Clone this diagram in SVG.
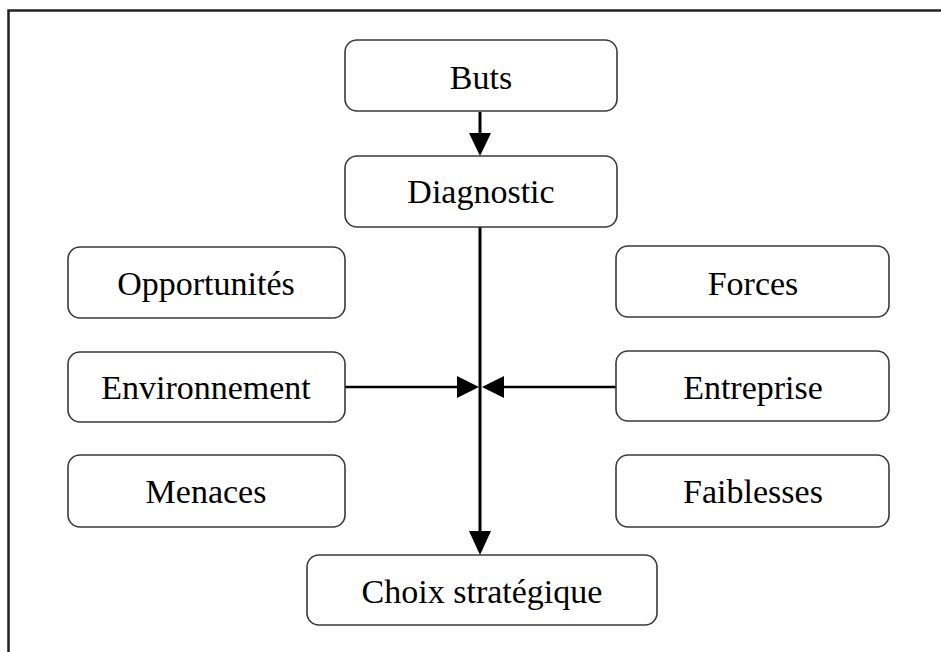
<svg xmlns="http://www.w3.org/2000/svg" width="941" height="652" viewBox="0 0 941 652">
<defs>
<style>
.box{fill:#fff;stroke:#3a3a3a;stroke-width:1.6}
.lbl{font-family:"Liberation Serif","Times New Roman",serif;font-size:34px;fill:#000;text-anchor:middle}
.ln{stroke:#000;stroke-width:3;fill:none}
</style>
</defs>
<rect x="0" y="0" width="941" height="652" fill="#fff"/>
<rect x="8.5" y="10.5" width="960" height="680" fill="none" stroke="#222" stroke-width="2.5"/>
<g id="connectors">
<line class="ln" x1="480" y1="112" x2="480" y2="133"/>
<path d="M469,133 L491,133 L480,156 Z" fill="#000"/>
<line class="ln" x1="480" y1="227" x2="480" y2="532"/>
<path d="M469,531 L491,531 L480,555 Z" fill="#000"/>
<line class="ln" x1="345" y1="387" x2="458" y2="387" style="stroke-width:2.5"/>
<path d="M457,376 L479,387 L457,398 Z" fill="#000"/>
<line class="ln" x1="616" y1="387" x2="503" y2="387" style="stroke-width:2.5"/>
<path d="M504,376 L482,387 L504,398 Z" fill="#000"/>
</g>
<g id="buts"><rect class="box" x="345" y="40" width="272" height="71" rx="12"/><text class="lbl" x="481" y="89">Buts</text></g>
<g id="diagnostic"><rect class="box" x="345" y="156" width="272" height="71" rx="12"/><text class="lbl" x="481" y="203">Diagnostic</text></g>
<g id="opportunites"><rect class="box" x="68" y="247" width="277" height="71" rx="12"/><text class="lbl" x="206" y="295">Opportunités</text></g>
<g id="forces"><rect class="box" x="616" y="246" width="273" height="71" rx="12"/><text class="lbl" x="753" y="295">Forces</text></g>
<g id="environnement"><rect class="box" x="68" y="352" width="277" height="70" rx="12"/><text class="lbl" x="206" y="399">Environnement</text></g>
<g id="entreprise"><rect class="box" x="616" y="351" width="273" height="70" rx="12"/><text class="lbl" x="753" y="399">Entreprise</text></g>
<g id="menaces"><rect class="box" x="68" y="455" width="277" height="72" rx="12"/><text class="lbl" x="206" y="503">Menaces</text></g>
<g id="faiblesses"><rect class="box" x="616" y="455" width="273" height="72" rx="12"/><text class="lbl" x="753" y="503">Faiblesses</text></g>
<g id="choix"><rect class="box" x="307" y="555" width="350" height="70" rx="12"/><text class="lbl" x="482" y="603">Choix stratégique</text></g>
</svg>
